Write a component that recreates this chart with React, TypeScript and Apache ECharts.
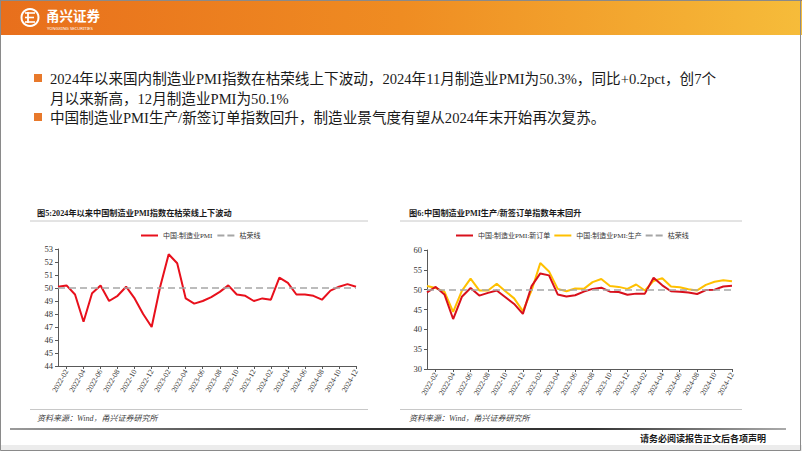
import React, { useEffect, useRef } from 'react';
import * as echarts from 'echarts';

const months = [
  '2022-01', '2022-02', '2022-03', '2022-04', '2022-05', '2022-06', '2022-07', '2022-08', '2022-09', '2022-10', '2022-11', '2022-12',
  '2023-01', '2023-02', '2023-03', '2023-04', '2023-05', '2023-06', '2023-07', '2023-08', '2023-09', '2023-10', '2023-11', '2023-12',
  '2024-01', '2024-02', '2024-03', '2024-04', '2024-05', '2024-06', '2024-07', '2024-08', '2024-09', '2024-10', '2024-11', '2024-12',
];

const pmi = [
  50.1, 50.2, 49.5, 47.4, 49.6, 50.2, 49.0, 49.4, 50.1, 49.2, 48.0, 47.0,
  50.1, 52.6, 51.9, 49.2, 48.8, 49.0, 49.3, 49.7, 50.2, 49.5, 49.4, 49.0,
  49.2, 49.1, 50.8, 50.4, 49.5, 49.5, 49.4, 49.1, 49.8, 50.1, 50.3, 50.1,
];

const newOrders = [
  49.3, 50.7, 48.8, 42.6, 48.2, 50.4, 48.5, 49.2, 49.8, 48.1, 46.4, 43.9,
  50.9, 54.1, 53.6, 48.8, 48.3, 48.6, 49.5, 50.2, 50.5, 49.5, 49.4, 48.7,
  49.0, 49.0, 53.0, 51.1, 49.6, 49.5, 49.3, 48.9, 49.9, 50.0, 50.8, 51.0,
];

const production = [
  50.9, 50.4, 49.5, 44.4, 49.7, 52.8, 49.8, 49.8, 51.5, 49.6, 47.8, 44.6,
  49.8, 56.7, 54.6, 50.2, 49.6, 50.3, 50.2, 51.9, 52.7, 50.9, 50.7, 50.2,
  51.3, 49.8, 52.2, 52.9, 50.8, 50.6, 50.1, 49.8, 51.2, 52.0, 52.4, 52.1,
];

const THRESHOLD = 50;

const seriesNames1 = ['中国:制造业PMI', '枯荣线'];
const seriesNames2 = ['中国:制造业PMI:新订单', '中国:制造业PMI:生产', '枯荣线'];

const bulletLines = [
  '2024年以来国内制造业PMI指数在枯荣线上下波动，2024年11月制造业PMI为50.3%，同比+0.2pct，创7个',
  '月以来新高，12月制造业PMI为50.1%',
  '中国制造业PMI生产/新签订单指数回升，制造业景气度有望从2024年末开始再次复苏。',
];

const chartTitle1 = '图5:2024年以来中国制造业PMI指数在枯荣线上下波动';
const chartTitle2 = '图6:中国制造业PMI生产/新签订单指数年末回升';
const sourceText = '资料来源：Wind，甬兴证券研究所';
const disclaimer = '请务必阅读报告正文后各项声明';

const SERIF = '"Liberation Serif", "Times New Roman", "Noto Sans CJK SC", serif';
const RED1 = '#E8101C';
const RED2 = '#D8101C';
const GOLD = '#FFC000';
const GREY_DASH = '#A6A6A6';
const AXIS = '#595959';

const LINE_ICON = 'path://M0,0H17V2H0Z';
const DASH_ICON = 'path://M0,0H7V2H0Z M10,0H17V2H10Z';

function buildOption() {
  const isLabel = (i: number) => i % 2 === 1;

  const xAxisBase = (gridIndex: number) => ({
    gridIndex,
    type: 'category',
    data: months,
    boundaryGap: false,
    axisLine: { show: true, lineStyle: { color: AXIS, width: 1 } },
    axisTick: { show: true, interval: isLabel, length: 3, lineStyle: { color: AXIS } },
    axisLabel: {
      interval: isLabel,
      rotate: 60,
      fontSize: 7.5,
      fontFamily: SERIF,
      color: '#333',
      margin: 4,
    },
    splitLine: { show: false },
  });

  const yAxisBase = (gridIndex: number, min: number, max: number, interval: number) => ({
    gridIndex,
    type: 'value',
    min,
    max,
    interval,
    axisLine: { show: true, lineStyle: { color: AXIS, width: 1 } },
    axisTick: { show: true, length: 3, lineStyle: { color: AXIS } },
    axisLabel: { fontSize: 8.5, fontFamily: SERIF, color: '#333', margin: 5 },
    splitLine: { show: false },
  });

  const dashedLine = { type: [7, 4], color: GREY_DASH, width: 1.5 };

  const text = (t: string, x: number, y: number, extra: any = {}) => ({
    type: 'text',
    x,
    y,
    silent: true,
    style: {
      text: t,
      fontSize: 14.6,
      fontFamily: SERIF,
      fill: '#1a1a1a',
      align: 'left',
      verticalAlign: 'middle',
      ...extra,
    },
  });

  const graphic: any[] = [
    { type: 'rect', shape: { x: 0, y: 0, width: 802, height: 451 }, style: { fill: '#ffffff' }, silent: true, z: -10 },
    { type: 'rect', shape: { x: 0, y: 445, width: 802, height: 6 }, style: { fill: '#ECECEC' }, silent: true },
    {
      type: 'rect',
      shape: { x: 0, y: 0, width: 802, height: 35 },
      silent: true,
      style: {
        fill: new echarts.graphic.LinearGradient(0, 0, 1, 0, [
          { offset: 0, color: '#E86F1C' },
          { offset: 0.5, color: '#EF8C22' },
          { offset: 1, color: '#F6BC3A' },
        ]),
      },
    },
    { type: 'line', shape: { x1: 0, y1: 0.5, x2: 802, y2: 0.5 }, style: { stroke: '#9a7a60', lineWidth: 1 }, silent: true },
    { type: 'rect', shape: { x: 0.5, y: 0.5, width: 800, height: 450 }, style: { fill: 'none', stroke: '#8a8a8a', lineWidth: 1 }, silent: true },
    // logo
    { type: 'circle', shape: { cx: 30, cy: 17.5, r: 8.5 }, style: { fill: 'none', stroke: '#ffffff', lineWidth: 2 }, silent: true },
    { type: 'line', shape: { x1: 28, y1: 12, x2: 28, y2: 23 }, style: { stroke: '#ffffff', lineWidth: 1.8 }, silent: true },
    { type: 'line', shape: { x1: 25, y1: 13, x2: 35, y2: 13 }, style: { stroke: '#ffffff', lineWidth: 1.6 }, silent: true },
    { type: 'line', shape: { x1: 25, y1: 17.5, x2: 34, y2: 17.5 }, style: { stroke: '#ffffff', lineWidth: 1.6 }, silent: true },
    { type: 'line', shape: { x1: 25, y1: 22, x2: 35, y2: 22 }, style: { stroke: '#ffffff', lineWidth: 1.6 }, silent: true },
    text('甬兴证券', 46, 14.5, { fontSize: 13.5, fontWeight: 'bold', fill: '#ffffff', fontFamily: '"Noto Sans CJK SC", sans-serif' }),
    text('YONGXING SECURITIES', 47, 28, { fontSize: 4.2, fill: '#ffffff', fontFamily: '"Noto Sans", sans-serif' }),
    // bullets
    { type: 'rect', shape: { x: 34, y: 74, width: 8, height: 8 }, style: { fill: '#E8792B' }, silent: true },
    { type: 'rect', shape: { x: 34, y: 113, width: 8, height: 8 }, style: { fill: '#E8792B' }, silent: true },
    text(bulletLines[0], 50, 79),
    text(bulletLines[1], 50, 98.5),
    text(bulletLines[2], 50, 117.5),
    // chart titles
    text(chartTitle1, 37, 213, { fontSize: 8.2, fontWeight: 'bold', fill: '#1a1a1a' }),
    text(chartTitle2, 409, 213, { fontSize: 8.2, fontWeight: 'bold', fill: '#1a1a1a' }),
    { type: 'line', shape: { x1: 30, y1: 221, x2: 368, y2: 221 }, style: { stroke: '#C8C8C8', lineWidth: 1 }, silent: true },
    { type: 'line', shape: { x1: 400, y1: 221, x2: 742, y2: 221 }, style: { stroke: '#C8C8C8', lineWidth: 1 }, silent: true },
    // sources
    { type: 'line', shape: { x1: 30, y1: 409.5, x2: 368, y2: 409.5 }, style: { stroke: '#C8C8C8', lineWidth: 1 }, silent: true },
    { type: 'line', shape: { x1: 400, y1: 409.5, x2: 742, y2: 409.5 }, style: { stroke: '#C8C8C8', lineWidth: 1 }, silent: true },
    text(sourceText, 37, 418, { fontSize: 8, fontStyle: 'italic', fill: '#404040' }),
    text(sourceText, 409, 418, { fontSize: 8, fontStyle: 'italic', fill: '#404040' }),
    // bottom rule
    {
      type: 'rect',
      shape: { x: 10, y: 428, width: 776, height: 2 },
      silent: true,
      style: {
        fill: new echarts.graphic.LinearGradient(0, 0, 1, 0, [
          { offset: 0, color: '#9a9a9a' },
          { offset: 0.4, color: '#333333' },
          { offset: 0.75, color: '#333333' },
          { offset: 1, color: '#aaaaaa' },
        ]),
      },
    },
    text(disclaimer, 766, 439, { fontSize: 9, align: 'right', fill: '#1a1a1a', fontWeight: 'bold' }),
  ];

  const legendCommon = {
    itemWidth: 17,
    itemHeight: 2,
    padding: 0,
    symbolKeepAspect: false,
    itemStyle: { borderWidth: 0 },
    textStyle: { fontSize: 7, color: '#333', fontFamily: SERIF },
  };

  return {
    animation: false,
    backgroundColor: 'transparent',
    graphic,
    legend: [
      {
        ...legendCommon,
        data: [
          { name: seriesNames1[0], icon: LINE_ICON },
          { name: seriesNames1[1], icon: DASH_ICON },
        ],
        left: 141,
        top: 232,
        itemGap: 5,
      },
      {
        ...legendCommon,
        data: [
          { name: seriesNames2[0], icon: LINE_ICON },
          { name: seriesNames2[1], icon: LINE_ICON },
          { name: seriesNames2[2], icon: DASH_ICON },
        ],
        left: 456,
        top: 232,
        itemGap: 4,
      },
    ],
    grid: [
      { left: 58, top: 249, width: 298, height: 117, containLabel: false, outerBoundsMode: 'none' },
      { left: 427, top: 250, width: 305, height: 119, containLabel: false, outerBoundsMode: 'none' },
    ],
    xAxis: [xAxisBase(0), xAxisBase(1)],
    yAxis: [yAxisBase(0, 44, 53, 1), yAxisBase(1, 30, 60, 5)],
    series: [
      {
        name: seriesNames1[0],
        type: 'line',
        xAxisIndex: 0,
        yAxisIndex: 0,
        data: pmi,
        symbol: 'none',
        lineStyle: { color: RED1, width: 2 },
        itemStyle: { color: RED1 },
        z: 3,
        markLine: {
          silent: true,
          symbol: 'none',
          label: { show: false },
          lineStyle: dashedLine,
          data: [{ yAxis: THRESHOLD }],
        },
      },
      {
        name: seriesNames1[1],
        type: 'line',
        xAxisIndex: 0,
        yAxisIndex: 0,
        data: [],
        symbol: 'none',
        lineStyle: dashedLine,
        itemStyle: { color: GREY_DASH },
      },
      {
        name: seriesNames2[0],
        type: 'line',
        xAxisIndex: 1,
        yAxisIndex: 1,
        data: newOrders,
        symbol: 'none',
        lineStyle: { color: RED2, width: 2 },
        itemStyle: { color: RED2 },
        z: 4,
        markLine: {
          silent: true,
          symbol: 'none',
          label: { show: false },
          lineStyle: dashedLine,
          data: [{ yAxis: THRESHOLD }],
        },
      },
      {
        name: seriesNames2[1],
        type: 'line',
        xAxisIndex: 1,
        yAxisIndex: 1,
        data: production,
        symbol: 'none',
        lineStyle: { color: GOLD, width: 2 },
        itemStyle: { color: GOLD },
        z: 3,
      },
      {
        name: seriesNames2[2],
        type: 'line',
        xAxisIndex: 1,
        yAxisIndex: 1,
        data: [],
        symbol: 'none',
        lineStyle: dashedLine,
        itemStyle: { color: GREY_DASH },
      },
    ],
  };
}

export default function App() {
  const ref = useRef<HTMLDivElement>(null);
  useEffect(() => {
    document.body.style.margin = '0';
    const chart = echarts.init(ref.current as HTMLDivElement, null, { renderer: 'svg' });
    chart.setOption(buildOption() as any);
    return () => {
      chart.dispose();
    };
  }, []);
  return <div ref={ref} style={{ width: 802, height: 451 }} />;
}
